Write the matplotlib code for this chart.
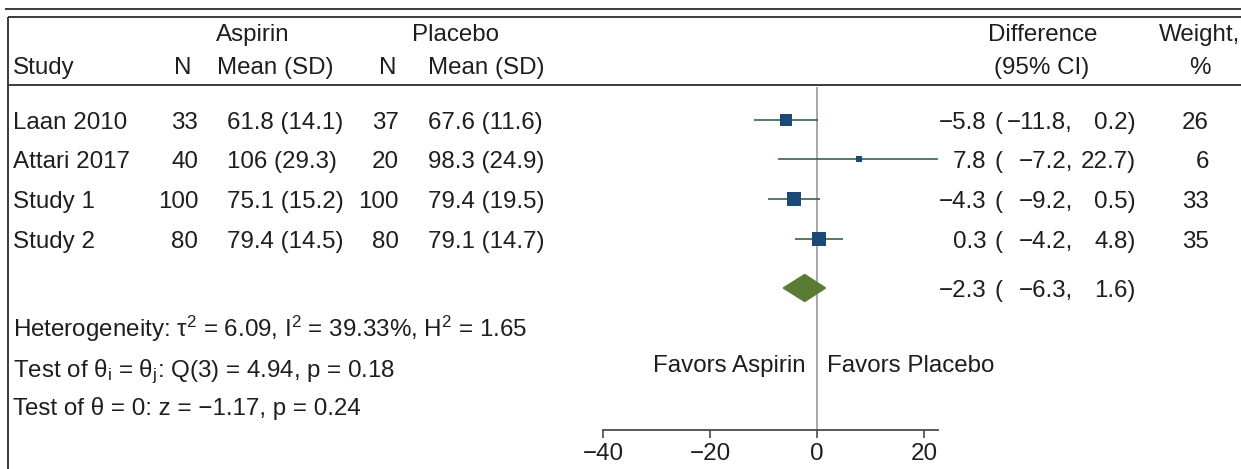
import matplotlib.pyplot as plt
from matplotlib.patches import Polygon

plt.rcParams['font.family'] = ['Liberation Sans', 'DejaVu Sans']
plt.rcParams['mathtext.fontset'] = 'custom'
plt.rcParams['mathtext.rm'] = 'Liberation Sans'
plt.rcParams['mathtext.it'] = 'Liberation Sans:italic'

# study data
studies = ["Laan 2010", "Attari 2017", "Study 1", "Study 2"]
n_asp = [33, 40, 100, 80]
mean_asp = [61.8, 106, 75.1, 79.4]
sd_asp = [14.1, 29.3, 15.2, 14.5]
n_pla = [37, 20, 100, 80]
mean_pla = [67.6, 98.3, 79.4, 79.1]
sd_pla = [11.6, 24.9, 19.5, 14.7]

diff = [-5.8, 7.8, -4.3, 0.3]
ci_lo = [-11.8, -7.2, -9.2, -4.2]
ci_hi = [0.2, 22.7, 0.5, 4.8]
weight = [26, 6, 33, 35]

overall = -2.3
overall_lo = -6.3
overall_hi = 1.6

stats_lines = [
    r"Heterogeneity: τ$^2$ = 6.09, I$^2$ = 39.33%, H$^2$ = 1.65",
    r"Test of θ$_\mathrm{i}$ = θ$_\mathrm{j}$: Q(3) = 4.94, p = 0.18",
    r"Test of θ = 0: z = −1.17, p = 0.24",
]
xticks = [-40, -20, 0, 20]

# layout (pixels)
W, H = 1241, 469
FS = 17.4
EM = FS * 100 / 72
TXT = "#1e1e1e"
LINE = "#3a3a3a"
row_y = [120, 159, 199, 239]
overall_y = 288
stats_y = [328, 368, 406]
plot_top, plot_bottom = 87, 430
zero_px = 817
px_per_unit = 5.35

# columns of the difference text
est_x, paren_x, lo_x, hi_x = 986, 994, 1073, 1136

SQ = "#1b4a78"
CI = "#2e6a44"
DIA = "#5a7b33"


def fmt(v):
    return f"{v:.1f}".replace("-", "\u2212")


fig = plt.figure(figsize=(W / 100, H / 100), dpi=100)
fig.patch.set_facecolor("white")

ax = fig.add_axes([0, 0, 1, 1])
ax.set_xlim(0, W)
ax.set_ylim(H, 0)
ax.axis("off")


def put(x, y, s, ha="left"):
    ax.text(x, y + 0.358 * EM, s, ha=ha, va="baseline", fontsize=FS, color=TXT)


def put_ci(y, est, lo, hi):
    put(est_x, y, fmt(est), "right")
    put(paren_x, y, "(")
    put(lo_x, y, fmt(lo) + ",", "right")
    put(hi_x, y, fmt(hi) + ")", "right")


# frame lines
ax.plot([5, W], [9, 9], color=LINE, lw=1.4, solid_capstyle="butt")
ax.plot([8, W], [17, 17], color=LINE, lw=1.4, solid_capstyle="butt")
ax.plot([8, 8], [17, H], color=LINE, lw=1.4, solid_capstyle="butt")
ax.plot([8, W], [85, 85], color=LINE, lw=1.4, solid_capstyle="butt")

# headers
put(253, 32, "Aspirin", "center")
put(455, 32, "Placebo", "center")
put(13, 65, "Study")
put(183, 65, "N", "center")
put(217, 65, "Mean (SD)")
put(388, 65, "N", "center")
put(428, 65, "Mean (SD)")
put(1043, 32, "Difference", "center")
put(1042, 65, "(95% CI)", "center")
put(1159, 32, "Weight,")
put(1200, 65, "%", "center")

# table rows
for i, y in enumerate(row_y):
    put(13, y, studies[i])
    put(198, y, str(n_asp[i]), "right")
    put(227, y, f"{mean_asp[i]:g} ({sd_asp[i]:.1f})")
    put(399, y, str(n_pla[i]), "right")
    put(428, y, f"{mean_pla[i]:g} ({sd_pla[i]:.1f})")
    put_ci(y, diff[i], ci_lo[i], ci_hi[i])
    put(1209, y, str(weight[i]), "right")

put_ci(overall_y, overall, overall_lo, overall_hi)

for s, y in zip(stats_lines, stats_y):
    put(13, y, s)

# forest plot axes
x_min = xticks[0]
x_max = max(ci_hi)
left_px = zero_px + x_min * px_per_unit
width_px = (x_max - x_min) * px_per_unit
axf = fig.add_axes([left_px / W, 1 - plot_bottom / H,
                    width_px / W, (plot_bottom - plot_top) / H])
axf.set_xlim(x_min, x_max)
axf.set_ylim(plot_bottom, plot_top)
axf.patch.set_visible(False)
for side in ["top", "left", "right"]:
    axf.spines[side].set_visible(False)
axf.spines["bottom"].set_color("#4a4a4a")
axf.spines["bottom"].set_linewidth(1.3)
axf.set_yticks([])
axf.set_xticks(xticks)
axf.tick_params(axis="x", length=6, width=1.2, color="#4a4a4a", pad=3.5,
                labelsize=FS, labelcolor=TXT)

axf.axvline(0, color="#a3a3a3", lw=1.3, zorder=1)

for i, y in enumerate(row_y):
    axf.plot([ci_lo[i], ci_hi[i]], [y, y], color=CI, lw=1.2, zorder=2,
             solid_capstyle="butt")
    side = 2.37 * weight[i] ** 0.5
    axf.plot(diff[i], y, marker="s", markersize=side * 0.72, color=SQ,
             markeredgewidth=0, zorder=3)

dh = 13.5
axf.add_patch(Polygon([[overall_lo, overall_y], [overall, overall_y - dh],
                       [overall_hi, overall_y], [overall, overall_y + dh]],
                      closed=True, facecolor=DIA, edgecolor=DIA, lw=1, zorder=3))

put(806, 363, "Favors Aspirin", "right")
put(827, 363, "Favors Placebo")

fig.savefig("out.png", dpi=100)
